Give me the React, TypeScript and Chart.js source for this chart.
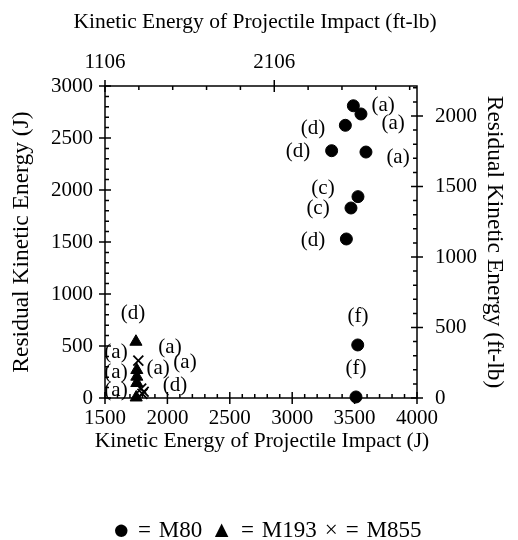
import React, { useEffect, useRef } from 'react';
import { Chart, registerables } from 'chart.js';

Chart.register(...registerables);

const FONT = "'Liberation Serif', 'Times New Roman', serif";
const K = 0.7376; // J -> ft-lb

// M80 (circles)
const m80X = [3490, 3551, 3426, 3316, 3591, 3527, 3471, 3434, 3525, 3511];
const m80Y = [2810, 2731, 2622, 2378, 2365, 1936, 1827, 1529, 510, 10];
// M193 (triangles)
const m193X = [1748, 1755, 1755, 1755, 1750];
const m193Y = [541, 269, 205, 144, 5];
// M855 (crosses)
const m855X = [1767, 1790, 1810, 1800];
const m855Y = [359, 90, 60, 40];

const seriesNames = ['M80', 'M193', 'M855'];
const seriesSymbols = ['\u25CF', '\u25B2', '\u00D7'];

// point annotations
const noteText = ['(a)', '(a)', '(d)', '(d)', '(a)', '(c)', '(c)', '(d)', '(f)', '(f)',
  '(d)', '(a)', '(a)', '(a)', '(a)', '(a)', '(a)', '(d)'];
const noteX = [3728, 3808, 3167, 3046, 3848, 3247, 3207, 3167, 3527, 3511,
  1724, 1588, 1588, 1588, 2021, 1925, 2141, 2061];
const noteY = [2817, 2644, 2596, 2375, 2317, 2010, 1827, 1510, 779, 288,
  817, 442, 250, 77, 490, 288, 337, 125];

// axis titles
const xTitle = 'Kinetic Energy of Projectile Impact (J)';
const x2Title = 'Kinetic Energy of Projectile Impact (ft-lb)';
const yTitle = 'Residual Kinetic Energy (J)';
const y2Title = 'Residual Kinetic Energy (ft-lb)';

// tick labels
const xMajor = [1500, 2000, 2500, 3000, 3500, 4000];
const yMajor = [0, 500, 1000, 1500, 2000, 2500, 3000];
const rightMajor = [0, 500, 1000, 1500, 2000];
const topMajor = [1106, 2106];

const xMin = 1500, xMax = 4000, yMin = 0, yMax = 3000;
const topMin = 1106, topMax = 1106 * xMax / xMin;

function steps(from: number, to: number, step: number) {
  const out: { value: number }[] = [];
  for (let v = from; v <= to + 1e-9; v += step) out.push({ value: v });
  return out;
}

const decor = {
  id: 'decor',
  beforeDatasetsDraw(chart: any) {
    const { ctx, chartArea, scales } = chart;
    const { left, right, top, bottom } = chartArea;
    ctx.save();
    ctx.strokeStyle = '#000';
    ctx.lineWidth = 1.5;
    ctx.strokeRect(left, top, right - left, bottom - top);
    ctx.beginPath();
    for (const t of scales.x.ticks) {
      const p = scales.x.getPixelForValue(t.value);
      const major = t.label !== '';
      ctx.moveTo(p, bottom - (major ? 6 : 4));
      ctx.lineTo(p, bottom + (major ? 6 : 0));
    }
    for (const t of scales.x2.ticks) {
      const p = scales.x2.getPixelForValue(t.value);
      const major = t.label !== '';
      ctx.moveTo(p, top - (major ? 6 : 0));
      ctx.lineTo(p, top + (major ? 6 : 4));
    }
    for (const t of scales.y.ticks) {
      const p = scales.y.getPixelForValue(t.value);
      const major = t.label !== '';
      ctx.moveTo(left - (major ? 6 : 0), p);
      ctx.lineTo(left + (major ? 6 : 4), p);
    }
    for (const t of scales.y2.ticks) {
      const p = scales.y2.getPixelForValue(t.value);
      const major = t.label !== '';
      ctx.moveTo(right - (major ? 6 : 4), p);
      ctx.lineTo(right + (major ? 6 : 0), p);
    }
    ctx.stroke();
    ctx.restore();
  },
  afterDatasetsDraw(chart: any) {
    const { ctx, scales, chartArea } = chart;
    ctx.save();
    ctx.fillStyle = '#000';
    ctx.font = `21px ${FONT}`;
    ctx.textAlign = 'center';
    ctx.textBaseline = 'middle';
    noteText.forEach((t, i) => {
      ctx.fillText(t, scales.x.getPixelForValue(noteX[i]), scales.y.getPixelForValue(noteY[i]));
    });
    // horizontal axis titles (drawn here so they are not squeezed to the axis width)
    ctx.font = `21.5px ${FONT}`;
    ctx.fillText(x2Title, 255, 22);
    ctx.fillText(xTitle, (chartArea.left + chartArea.right) / 2 + 1, 441);
    // legend: symbol, "=", name, spread over the reference width
    const segs: { t: string; size: number }[] = [];
    seriesNames.forEach((n, i) => {
      segs.push({ t: seriesSymbols[i], size: i === 0 ? 29 : 23 });
      segs.push({ t: '=', size: 23 });
      segs.push({ t: n, size: 23 });
    });
    let total = 0;
    const widths = segs.map((s) => {
      ctx.font = `${s.size}px ${FONT}`;
      const w = ctx.measureText(s.t).width;
      total += w;
      return w;
    });
    const span = 309;
    const gap = (span - total) / (segs.length - 1);
    let cx = 267 - span / 2;
    ctx.textAlign = 'left';
    segs.forEach((s, i) => {
      ctx.font = `${s.size}px ${FONT}`;
      ctx.fillText(s.t, cx, 531);
      cx += widths[i] + gap;
    });
    ctx.restore();
  },
};

export default function App() {
  const ref = useRef<HTMLCanvasElement | null>(null);
  useEffect(() => {
    if (!ref.current) return;
    const tickFont = { family: FONT, size: 21 };
    const vTitleFont = { family: FONT, size: 23.5 };
    const chart = new Chart(ref.current, {
      type: 'scatter',
      data: {
        datasets: [
          {
            label: seriesNames[0],
            data: m80X.map((x, i) => ({ x, y: m80Y[i] })),
            pointStyle: 'circle', pointRadius: 6, borderWidth: 1,
            backgroundColor: '#000', borderColor: '#000', clip: false,
          },
          {
            label: seriesNames[1],
            data: m193X.map((x, i) => ({ x, y: m193Y[i] })),
            pointStyle: 'triangle', pointRadius: 7, borderWidth: 1,
            backgroundColor: '#000', borderColor: '#000', clip: false,
          },
          {
            label: seriesNames[2],
            data: m855X.map((x, i) => ({ x, y: m855Y[i] })),
            pointStyle: 'crossRot', pointRadius: 7, borderWidth: 1.8,
            backgroundColor: '#000', borderColor: '#000', clip: false,
          },
        ] as any,
      },
      options: {
        responsive: false,
        animation: false,
        layout: { padding: { left: 0, right: 0, top: 0, bottom: 82 } },
        plugins: { legend: { display: false }, tooltip: { enabled: false } },
        scales: {
          x: {
            type: 'linear', position: 'bottom', min: xMin, max: xMax,
            afterBuildTicks: (s: any) => { s.ticks = steps(xMin, xMax, 100); },
            afterFit: (s: any) => { s.height = 60; },
            grid: { display: false, drawTicks: false }, border: { display: false },
            ticks: {
              autoSkip: false, maxRotation: 0, minRotation: 0, padding: 8, color: '#000', font: tickFont,
              callback: (v: any) => (xMajor.includes(v) ? String(v) : ''),
            },
            title: { display: false },
          },
          x2: {
            type: 'linear', position: 'top', min: topMin, max: topMax,
            afterBuildTicks: (s: any) => { s.ticks = steps(topMin, topMax, 200); },
            afterFit: (s: any) => { s.height = 86; },
            grid: { display: false, drawTicks: false }, border: { display: false },
            ticks: {
              autoSkip: false, maxRotation: 0, minRotation: 0, padding: 11, color: '#000', font: tickFont,
              callback: (v: any) => (topMajor.includes(v) ? String(v) : ''),
            },
            title: { display: false },
          },
          y: {
            type: 'linear', position: 'left', min: yMin, max: yMax,
            afterBuildTicks: (s: any) => { s.ticks = steps(yMin, yMax, 100); },
            afterFit: (s: any) => { s.width = 105; },
            grid: { display: false, drawTicks: false }, border: { display: false },
            ticks: {
              autoSkip: false, padding: 12, color: '#000', font: tickFont,
              callback: (v: any) => (yMajor.includes(v) ? String(v) : ''),
            },
            title: { display: true, text: yTitle, color: '#000', font: vTitleFont, padding: { top: 8, bottom: 0 } },
          },
          y2: {
            type: 'linear', position: 'right', min: yMin * K, max: yMax * K,
            afterBuildTicks: (s: any) => { s.ticks = steps(0, yMax * K, 100); },
            afterFit: (s: any) => { s.width = 101; },
            grid: { display: false, drawTicks: false }, border: { display: false },
            ticks: {
              autoSkip: false, padding: 18, color: '#000', font: tickFont,
              callback: (v: any) => (rightMajor.includes(v) ? String(v) : ''),
            },
            title: { display: true, text: y2Title, color: '#000', font: vTitleFont, padding: { top: 10, bottom: 0 } },
          },
        } as any,
      },
      plugins: [decor],
    });
    return () => chart.destroy();
  }, []);
  return (
    <canvas
      ref={ref}
      width={518}
      height={540}
      style={{ position: 'absolute', left: 0, top: 0, width: 518, height: 540, background: '#fff' }}
    />
  );
}
